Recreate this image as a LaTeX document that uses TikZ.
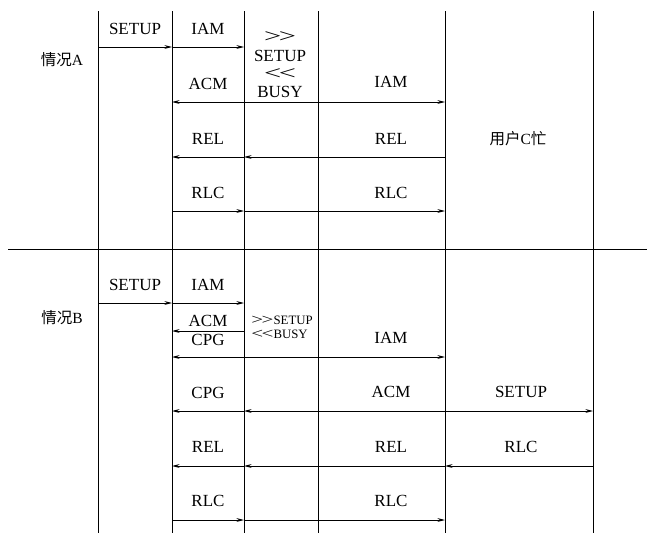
\documentclass[tikz,border=0pt]{standalone}
\usepackage{fontspec}
\usepackage{graphicx}
\setmainfont{Liberation Serif}
\newfontfamily\cjk{Noto Sans CJK SC}
\usetikzlibrary{arrows.meta}
\newcommand{\chevR}{{\fontsize{19}{18}\selectfont\scalebox{1.6}[1]{{>}\kern-1.5pt{>}}}}
\newcommand{\chevL}{{\fontsize{19}{18}\selectfont\scalebox{1.6}[1]{{<}\kern-1.5pt{<}}}}
\newcommand{\schevR}{{\fontsize{14.5}{12}\selectfont\scalebox{1.45}[1]{{>}\kern-1pt{>}}}}
\newcommand{\schevL}{{\fontsize{14.5}{12}\selectfont\scalebox{1.45}[1]{{<}\kern-1pt{<}}}}
\begin{document}
\begin{tikzpicture}[x=1pt,y=-1pt,line width=0.9pt,
  msg/.style={-{Stealth[length=7.5pt,width=3.8pt]}},
  both/.style={{Stealth[length=7.5pt,width=3.8pt]}-{Stealth[length=7.5pt,width=3.8pt]}},
  lbl/.style={font=\fontsize{17}{17}\selectfont,inner sep=0pt},
  stack/.style={font=\fontsize{17}{18.3}\selectfont,inner sep=0pt,align=center},
  small/.style={font=\fontsize{12.8}{14.2}\selectfont,inner sep=0pt,align=left},
  cjklbl/.style={font=\fontsize{15.5}{16}\selectfont,inner sep=0pt}]
\useasboundingbox[fill=white] (0,0) rectangle (647,533);
% lifelines
\foreach \i/\x in {1/98,2/172,3/244,4/318,5/445,6/593}{
  \coordinate (L\i t) at (\x,11);
  \coordinate (L\i b) at (\x,533);
  \draw (L\i t) -- (L\i b);
}
% separator
\coordinate (sepL) at (8,249);
\coordinate (sepR) at (647,249);
\draw (sepL) -- (sepR);
% row coordinates
\foreach \r/\y in {a1/47,a2/102,a3/157,a4/211,b1/303,b2/331,b3/357,b4/411,b5/466,b6/520}{
  \foreach \i/\x in {1/98,2/172,3/244,4/318,5/445,6/593}{
    \coordinate (\r-\i) at (\x,\y);
  }
}
% ---------- case A ----------
\node[cjklbl] (caseA) at (62,60) {{\cjk 情况}A};
\node[lbl] (tA1) at (135,29) {SETUP};
\node[lbl] (tA2) at (208,29) {IAM};
\node[stack] (tA3) at (280,65) {\chevR\\SETUP\\\chevL\\BUSY};
\node[lbl] (tA7) at (208,84) {ACM};
\node[lbl] (tA8) at (391,82) {IAM};
\node[lbl] (tA9) at (208,139) {REL};
\node[lbl] (tA10) at (391,139) {REL};
\node[lbl] (tA11) at (208,193) {RLC};
\node[lbl] (tA12) at (391,193) {RLC};
\node[cjklbl] (busyC) at (518,139) {{\cjk 用户}C{\cjk 忙}};
\draw[msg] (a1-1) -- (a1-2);
\draw[msg] (a1-2) -- (a1-3);
\draw[both] (a2-2) -- (a2-5);
\draw[msg] (a3-5) -- (a3-3);
\draw[msg] (a3-3) -- (a3-2);
\draw[msg] (a4-2) -- (a4-3);
\draw[msg] (a4-3) -- (a4-5);
% ---------- case B ----------
\node[cjklbl] (caseB) at (62,318) {{\cjk 情况}B};
\node[lbl] (tB1) at (135,285) {SETUP};
\node[lbl] (tB2) at (208,285) {IAM};
\node[lbl] (tB3) at (208,321) {ACM};
\node[lbl] (tB4) at (208,340) {CPG};
\node[small] (tB5) at (282,327) {\schevR SETUP\\\schevL BUSY};
\node[lbl] (tB7) at (391,338) {IAM};
\node[lbl] (tB8) at (208,393) {CPG};
\node[lbl] (tB9) at (391,392) {ACM};
\node[lbl] (tB10) at (521,392) {SETUP};
\node[lbl] (tB11) at (208,447) {REL};
\node[lbl] (tB12) at (391,447) {REL};
\node[lbl] (tB13) at (521,447) {RLC};
\node[lbl] (tB14) at (208,501) {RLC};
\node[lbl] (tB15) at (391,501) {RLC};
\draw[msg] (b1-1) -- (b1-2);
\draw[msg] (b1-2) -- (b1-3);
\draw[msg] (b2-3) -- (b2-2);
\draw[both] (b3-2) -- (b3-5);
\draw[msg] (b4-5) -- (b4-3);
\draw[msg] (b4-3) -- (b4-2);
\draw[msg] (b4-5) -- (b4-6);
\draw[msg] (b5-6) -- (b5-5);
\draw[msg] (b5-5) -- (b5-3);
\draw[msg] (b5-3) -- (b5-2);
\draw[msg] (b6-2) -- (b6-3);
\draw[msg] (b6-3) -- (b6-5);
\end{tikzpicture}
\end{document}
